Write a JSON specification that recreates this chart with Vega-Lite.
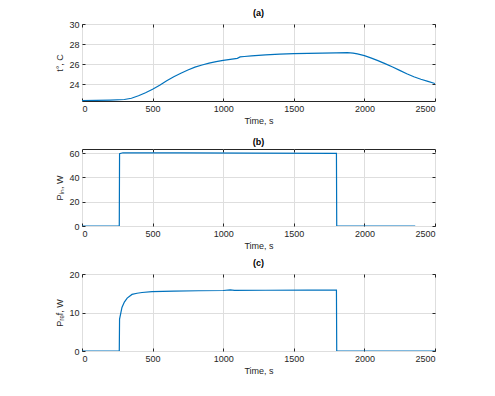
{
  "$schema": "https://vega.github.io/schema/vega-lite/v6.json",
  "background": "white",
  "padding": {"left": 55, "top": 8, "right": 5, "bottom": 5},
  "spacing": 48,
  "bounds": "flush",
  "config": {
    "font": "Liberation Sans",
    "view": {"stroke": "#262626", "strokeWidth": 1},
    "axis": {
      "domain": false,
      "tickSize": -3,
      "tickColor": "#262626",
      "labelPadding": 6,
      "labelFontSize": 9,
      "labelColor": "#262626",
      "titleFontSize": 9,
      "titleFontWeight": "normal",
      "titleColor": "#262626",
      "gridColor": "#dedede",
      "gridWidth": 1
    },
    "title": {"fontSize": 9, "fontWeight": "bold", "color": "#000000", "offset": 2},
    "line": {"color": "#0072BD", "strokeWidth": 1.2}
  },
  "datasets": {
    "temp": [
      {"t": 0, "v": 22.38}, {"t": 100, "v": 22.39}, {"t": 200, "v": 22.42}, {"t": 300, "v": 22.48},
      {"t": 350, "v": 22.6}, {"t": 400, "v": 22.85}, {"t": 450, "v": 23.15}, {"t": 500, "v": 23.5},
      {"t": 550, "v": 23.9}, {"t": 600, "v": 24.35}, {"t": 650, "v": 24.75}, {"t": 700, "v": 25.1},
      {"t": 750, "v": 25.42}, {"t": 800, "v": 25.7}, {"t": 850, "v": 25.92}, {"t": 900, "v": 26.1},
      {"t": 950, "v": 26.25}, {"t": 1000, "v": 26.38}, {"t": 1050, "v": 26.48}, {"t": 1100, "v": 26.58},
      {"t": 1120, "v": 26.72}, {"t": 1150, "v": 26.76}, {"t": 1200, "v": 26.82}, {"t": 1300, "v": 26.92},
      {"t": 1400, "v": 27.0}, {"t": 1500, "v": 27.05}, {"t": 1600, "v": 27.08}, {"t": 1700, "v": 27.1},
      {"t": 1800, "v": 27.12}, {"t": 1880, "v": 27.15}, {"t": 1920, "v": 27.1}, {"t": 1950, "v": 27.02},
      {"t": 2000, "v": 26.85}, {"t": 2050, "v": 26.6}, {"t": 2100, "v": 26.33}, {"t": 2150, "v": 26.03},
      {"t": 2200, "v": 25.72}, {"t": 2250, "v": 25.38}, {"t": 2300, "v": 25.05}, {"t": 2350, "v": 24.75},
      {"t": 2400, "v": 24.5}, {"t": 2450, "v": 24.28}, {"t": 2500, "v": 24.07}
    ],
    "pin": [
      {"t": 0, "v": 0}, {"t": 264, "v": 0}, {"t": 266, "v": 59.5}, {"t": 290, "v": 60.2},
      {"t": 700, "v": 60.1}, {"t": 1200, "v": 59.9}, {"t": 1802, "v": 59.7}, {"t": 1804, "v": 0},
      {"t": 2360, "v": 0}
    ],
    "pref": [
      {"t": 0, "v": 0}, {"t": 264, "v": 0}, {"t": 266, "v": 8.3}, {"t": 283, "v": 11.3},
      {"t": 300, "v": 12.7}, {"t": 320, "v": 13.75}, {"t": 354, "v": 14.7}, {"t": 390, "v": 15.0},
      {"t": 425, "v": 15.2}, {"t": 496, "v": 15.4}, {"t": 650, "v": 15.55}, {"t": 827, "v": 15.65},
      {"t": 1000, "v": 15.72}, {"t": 1050, "v": 15.9}, {"t": 1080, "v": 15.75}, {"t": 1300, "v": 15.78},
      {"t": 1600, "v": 15.8}, {"t": 1802, "v": 15.82}, {"t": 1804, "v": 0}, {"t": 2500, "v": 0}
    ]
  },
  "vconcat": [
    {
      "title": "(a)",
      "width": 353, "height": 77,
      "data": {"name": "temp"},
      "resolve": {"axis": {"x": "independent", "y": "independent"}},
      "layer": [
        {
          "mark": {"type": "line", "clip": true},
          "encoding": {
            "x": {"field": "t", "type": "quantitative", "scale": {"domain": [0, 2500], "nice": false}, "axis": {"title": "Time, s", "format": "d", "values": [0, 500, 1000, 1500, 2000, 2500], "titlePadding": 3}},
            "y": {"field": "v", "type": "quantitative", "scale": {"domain": [22.33, 30], "nice": false, "zero": false}, "axis": {"title": "t°, C", "values": [24, 26, 28, 30], "titlePadding": 4}}
          }
        },
        {
          "mark": {"type": "line", "strokeOpacity": 0},
          "encoding": {
            "x": {"field": "t", "type": "quantitative", "axis": {"orient": "top", "labels": false, "title": null, "grid": false, "values": [0, 500, 1000, 1500, 2000, 2500]}},
            "y": {"field": "v", "type": "quantitative", "axis": {"orient": "right", "labels": false, "title": null, "grid": false, "values": [24, 26, 28, 30]}}
          }
        }
      ]
    },
    {
      "title": "(b)",
      "width": 353, "height": 77,
      "data": {"name": "pin"},
      "resolve": {"axis": {"x": "independent", "y": "independent"}},
      "layer": [
        {
          "mark": {"type": "line", "clip": true},
          "encoding": {
            "x": {"field": "t", "type": "quantitative", "scale": {"domain": [0, 2500], "nice": false}, "axis": {"title": "Time, s", "format": "d", "values": [0, 500, 1000, 1500, 2000, 2500], "titlePadding": 3}},
            "y": {"field": "v", "type": "quantitative", "scale": {"domain": [0, 63.3], "nice": false}, "axis": {"title": "Pᵢₙ, W", "values": [0, 20, 40, 60], "titlePadding": 4}}
          }
        },
        {
          "mark": {"type": "line", "strokeOpacity": 0},
          "encoding": {
            "x": {"field": "t", "type": "quantitative", "axis": {"orient": "top", "labels": false, "title": null, "grid": false, "values": [0, 500, 1000, 1500, 2000, 2500]}},
            "y": {"field": "v", "type": "quantitative", "axis": {"orient": "right", "labels": false, "title": null, "grid": false, "values": [0, 20, 40, 60]}}
          }
        }
      ]
    },
    {
      "title": "(c)",
      "width": 353, "height": 77,
      "data": {"name": "pref"},
      "resolve": {"axis": {"x": "independent", "y": "independent"}},
      "layer": [
        {
          "mark": {"type": "line", "clip": true},
          "encoding": {
            "x": {"field": "t", "type": "quantitative", "scale": {"domain": [0, 2500], "nice": false}, "axis": {"title": "Time, s", "format": "d", "values": [0, 500, 1000, 1500, 2000, 2500], "titlePadding": 3}},
            "y": {"field": "v", "type": "quantitative", "scale": {"domain": [0, 20], "nice": false}, "axis": {"title": "Pᵣₑf, W", "values": [0, 10, 20], "titlePadding": 4}}
          }
        },
        {
          "mark": {"type": "line", "strokeOpacity": 0},
          "encoding": {
            "x": {"field": "t", "type": "quantitative", "axis": {"orient": "top", "labels": false, "title": null, "grid": false, "values": [0, 500, 1000, 1500, 2000, 2500]}},
            "y": {"field": "v", "type": "quantitative", "axis": {"orient": "right", "labels": false, "title": null, "grid": false, "values": [0, 10, 20]}}
          }
        }
      ]
    }
  ]
}
